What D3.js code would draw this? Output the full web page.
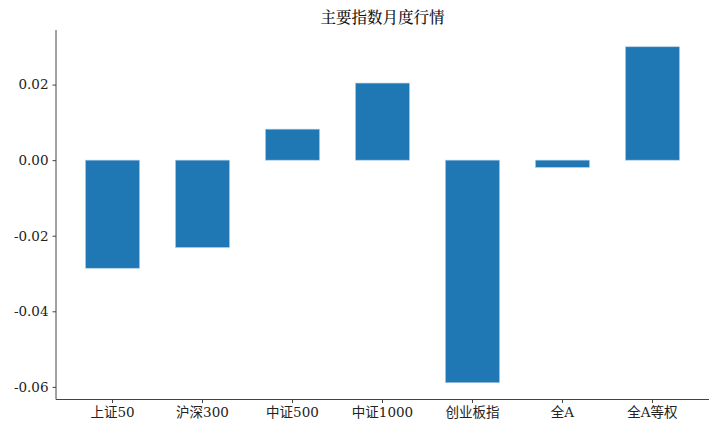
<!DOCTYPE html>
<html><head><meta charset="utf-8">
<script src="https://cdn.jsdelivr.net/npm/d3@7"></script>
<style>body{margin:0;background:#fff}svg{display:block}</style>
</head><body>
<svg id="c" width="720" height="432"></svg>
<script>
const categories = ["上证50","沪深300","中证500","中证1000","创业板指","全A","全A等权"];
const values = [-0.0286, -0.0231, 0.0082, 0.0204, -0.0589, -0.0019, 0.0300];
const yTicks = [-0.06, -0.04, -0.02, 0.00, 0.02];
const title = "主要指数月度行情";

(function(){
const svg = d3.select("#c");
const mL = 56, mR = 709, mT = 30, mB = 399.5;
const font = "'DejaVu Serif','Noto Sans CJK SC',serif";

const x = d3.scaleBand().domain(categories).range([mL, mR]).paddingInner(0.4).paddingOuter(0.328);
const ext = d3.extent(values); const m = (ext[1]-ext[0])*0.05;
const y = d3.scaleLinear().domain([ext[0]-m, ext[1]+m]).range([mB, mT]);

svg.append("g").selectAll("rect").data(values).join("rect")
  .attr("x", (d,i)=>x(categories[i]))
  .attr("width", x.bandwidth())
  .attr("y", d=>y(Math.max(0,d)))
  .attr("height", d=>Math.abs(y(d)-y(0)))
  .attr("fill", "#1f77b4")
  .attr("stroke", "#a9c8e4").attr("stroke-width", 0.6);

const fmt = d => d3.format(".2f")(d).replace("−","-");
const ya = svg.append("g").attr("transform", `translate(${mL},0)`)
  .call(d3.axisLeft(y).tickValues(yTicks).tickFormat(fmt).tickSize(3.5).tickPadding(4));
const xa = svg.append("g").attr("transform", `translate(0,${mB})`)
  .call(d3.axisBottom(x).tickSize(3.5).tickPadding(4));
[ya, xa].forEach(a=>{
  a.selectAll("path").attr("stroke","#444").attr("stroke-width",1);
  a.selectAll("line").attr("stroke","#444");
  a.selectAll("text").attr("fill","#222").style("font-family", font).style("font-size","13.5px");
});
ya.select(".domain").attr("d", `M0,${mT}V${mB}`);
xa.select(".domain").attr("d", `M${mL},0H${mR}`);

svg.append("text").attr("x", (mL+mR)/2).attr("y", 23).attr("text-anchor","middle")
  .style("font-family", "'Noto Serif CJK SC','Noto Sans CJK SC',serif").style("font-size","15.5px")
  .style("font-weight", 500).attr("fill","#111").text(title);
})();
</script>
</body></html>
